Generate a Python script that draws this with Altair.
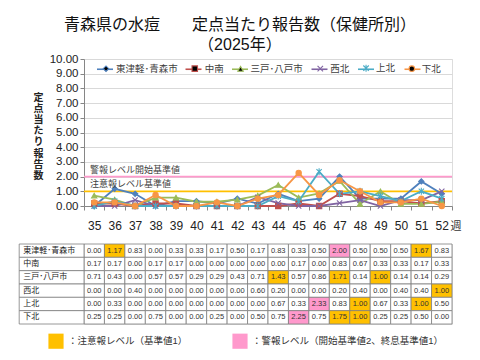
import altair as alt
import pandas as pd

weeks = list(range(35, 53))
regions = ["東津軽･青森市", "中南", "三戸･八戸市", "西北", "上北", "下北"]
v_higashi = [0.00, 1.17, 0.83, 0.00, 0.33, 0.33, 0.17, 0.50, 0.17, 0.83, 0.33, 0.50, 2.00, 0.50, 0.50, 0.50, 1.67, 0.83]
v_chunan = [0.17, 0.17, 0.00, 0.17, 0.17, 0.00, 0.00, 0.00, 0.00, 0.00, 0.17, 0.00, 0.83, 0.67, 0.33, 0.33, 0.17, 0.33]
v_sannohe = [0.71, 0.43, 0.00, 0.57, 0.57, 0.29, 0.29, 0.43, 0.71, 1.43, 0.57, 0.86, 1.71, 0.14, 1.00, 0.14, 0.14, 0.29]
v_seihoku = [0.00, 0.00, 0.40, 0.00, 0.00, 0.00, 0.00, 0.00, 0.60, 0.20, 0.00, 0.00, 0.20, 0.40, 0.00, 0.40, 0.40, 1.00]
v_kamikita = [0.00, 0.33, 0.00, 0.00, 0.00, 0.00, 0.00, 0.00, 0.00, 0.67, 0.33, 2.33, 0.83, 1.00, 0.67, 0.33, 1.00, 0.50]
v_shimokita = [0.25, 0.25, 0.00, 0.75, 0.00, 0.00, 0.25, 0.00, 0.50, 0.75, 2.25, 0.75, 1.75, 1.00, 0.25, 0.25, 0.50, 0.00]
series = [v_higashi, v_chunan, v_sannohe, v_seihoku, v_kamikita, v_shimokita]

colors = ["#4F81BD", "#C0504D", "#9BBB59", "#8064A2", "#4BACC6", "#F79646"]
shapes = ["diamond", "square", "triangle-up",
          "M-1,-1L1,1M1,-1L-1,1",
          "M-1,-1L1,1M1,-1L-1,1M0,-1.3L0,1.3",
          "circle"]

title_lines = ["青森県の水痘　　定点当たり報告数（保健所別）", "（2025年）"]
y_title = "定点当たり報告数"
x_title = "週"
thresholds = [2, 1]
threshold_labels = ["警報レベル開始基準値", "注意報レベル基準値"]
threshold_colors = ["#FF99CC", "#FFC000"]
legend_caution = "：注意報レベル（基準値1）"
legend_alarm = "：警報レベル（開始基準値2、終息基準値1）"

FONT = "Liberation Sans, Noto Sans CJK JP"

rows = []
for r, vals in zip(regions, series):
    for w, v in zip(weeks, vals):
        lvl = legend_alarm if v >= 2 else (legend_caution if v >= 1 else "none")
        rows.append(dict(region=r, region_pt=r, week=w, wk=str(w), value=v, level=lvl))
df = pd.DataFrame(rows)
week_labels = [str(w) for w in weeks]

cscale = alt.Scale(domain=regions, range=colors)
sscale = alt.Scale(domain=regions, range=shapes)

# legend layout: a line-symbol legend with a marker legend laid exactly over it
LEG_X, LEG_Y, LINE_SYM, PT_SYM = 12, 1, 256, 30
LBL_FS, COL_PAD, LBL_OFF = 9.5, 5.5, 0
line_w = LINE_SYM ** 0.5
pt_w = PT_SYM ** 0.5
shift = (line_w - pt_w) / 2
common = dict(orient="none", direction="horizontal", title=None,
              labelFontSize=LBL_FS, labelFont=FONT)
leg_line = alt.Legend(legendX=LEG_X, legendY=LEG_Y, symbolType="stroke", symbolSize=LINE_SYM,
                      symbolStrokeWidth=1.6, labelOffset=LBL_OFF, columnPadding=COL_PAD,
                      labelColor="transparent", **common)
leg_pt = alt.Legend(legendX=LEG_X + shift, legendY=LEG_Y + (line_w - LBL_FS) / 2,
                    symbolSize=PT_SYM, symbolStrokeWidth=1.1,
                    labelOffset=line_w + LBL_OFF - pt_w - shift, columnPadding=COL_PAD + shift,
                    labelColor="#404040", **common)

yaxis = alt.Axis(values=list(range(11)), format=".2f", labelFontSize=11.5, labelColor="#222222",
                 labelOverlap=False, labelFlush=False,
                 gridColor="#D9D9D9", domainColor="#868686", tickColor="#868686", tickSize=4,
                 title=list(y_title), titleAngle=0, titleFontSize=10, titleFontWeight="bold",
                 titleLineHeight=11.2, titleX=-46, titleY=38, titleBaseline="middle",
                 titleAlign="center", titleColor="#222222")
yscale = alt.Scale(domain=[0, 10])

X = alt.X("wk:O", sort=week_labels,
          scale=alt.Scale(type="band", paddingInner=0, paddingOuter=0),
          bandPosition=0.5,
          axis=alt.Axis(title=x_title, labelAngle=0, tickBand="extent", labelFontSize=12,
                        labelPadding=10, tickSize=4, domainColor="#868686", tickColor="#868686",
                        labelColor="#222222", titleFontSize=11, titleFontWeight="normal",
                        titleAngle=0, titleAlign="left", titleX=366, titleY=20, titleBaseline="middle",
                        titleColor="#333333"))
Y = alt.Y("value:Q", scale=yscale, axis=yaxis)

base = alt.Chart(df)
lines = base.mark_line(strokeWidth=1.8).encode(
    x=X, y=Y,
    color=alt.Color("region:N", sort=regions, scale=cscale, legend=leg_line),
)
points = base.mark_point(filled=True, size=28, strokeWidth=1.1, opacity=1).encode(
    x=X, y=Y,
    fill=alt.Fill("region_pt:N", sort=regions, scale=cscale, legend=leg_pt),
    stroke=alt.Stroke("region_pt:N", sort=regions, scale=cscale, legend=leg_pt),
    shape=alt.Shape("region_pt:N", sort=regions, scale=sscale, legend=leg_pt),
)
tdf = pd.DataFrame({"y": thresholds, "label": threshold_labels, "c": threshold_colors})
rules = alt.Chart(tdf).mark_rule(strokeWidth=1.8).encode(
    y=alt.Y("y:Q", scale=yscale, axis=yaxis), color=alt.Color("c:N", scale=None))
tlabels = alt.Chart(tdf).mark_text(align="left", baseline="middle", dy=-7, fontSize=9,
                                   font=FONT, color="#404040").encode(
    x=alt.value(6), y=alt.Y("y:Q", scale=yscale, axis=yaxis), text="label:N")

top = alt.layer(rules, lines, points, tlabels).properties(width=368, height=147)

# table
lab_units = 3.17
cells = alt.Chart(df).transform_calculate(
    x0="datum.week - 0.5", x1="datum.week + 0.5"
)
tx = alt.X("x0:Q", scale=alt.Scale(domain=[34.5, 52.5], nice=False, zero=False), axis=None)
ty = alt.Y("region:N", sort=regions, scale=alt.Scale(type="band", paddingInner=0, paddingOuter=0), axis=None)
rect = cells.mark_rect(stroke="#7F7F7F", strokeWidth=0.8).encode(
    x=tx, x2="x1:Q", y=ty,
    fill=alt.Fill("level:N",
                  scale=alt.Scale(domain=[legend_caution, legend_alarm, "none"],
                                  range=["#FFC000", "#FF99CC", "#FFFFFF"]),
                  legend=alt.Legend(values=[legend_caution, legend_alarm], orient="none",
                                    legendX=-36, legendY=89, direction="horizontal", title=None,
                                    symbolType="square", symbolSize=230, labelFontSize=9.5,
                                    labelFont=FONT, columnPadding=44, symbolStrokeWidth=0,
                                    labelColor="#333333", labelLimit=400)))
nums = cells.mark_text(fontSize=7.5, font=FONT, color="#333333").encode(
    x=alt.X("week:Q", scale=alt.Scale(domain=[34.5, 52.5], nice=False, zero=False), axis=None),
    y=ty, text=alt.Text("value:Q", format=".2f"))
labdf = pd.DataFrame({"region": regions})
labs = alt.Chart(labdf).transform_calculate(
    x0=f"34.5 - {lab_units}", x1="34.5")
lrect = labs.mark_rect(stroke="#7F7F7F", strokeWidth=0.8, fill="white").encode(
    x=tx, x2="x1:Q", y=ty)
ltext = labs.mark_text(align="left", dx=4, fontSize=8, font=FONT, color="#222222").encode(
    x=tx, y=ty, text="region:N")

table = alt.layer(rect, nums, lrect, ltext).properties(width=368, height=80)

chart = alt.vconcat(top, table, spacing=11).resolve_scale(color="independent", fill="independent").properties(
    title=alt.Title(text=title_lines, fontSize=16, font=FONT, fontWeight="normal", anchor="middle",
                    color="#111111", lineHeight=20, offset=0),
    padding={"left": 10, "top": 8, "right": 5, "bottom": 5},
).configure_view(stroke=None).configure(font=FONT)

chart.save("out.html", embed_options={"renderer": "svg", "actions": False})
